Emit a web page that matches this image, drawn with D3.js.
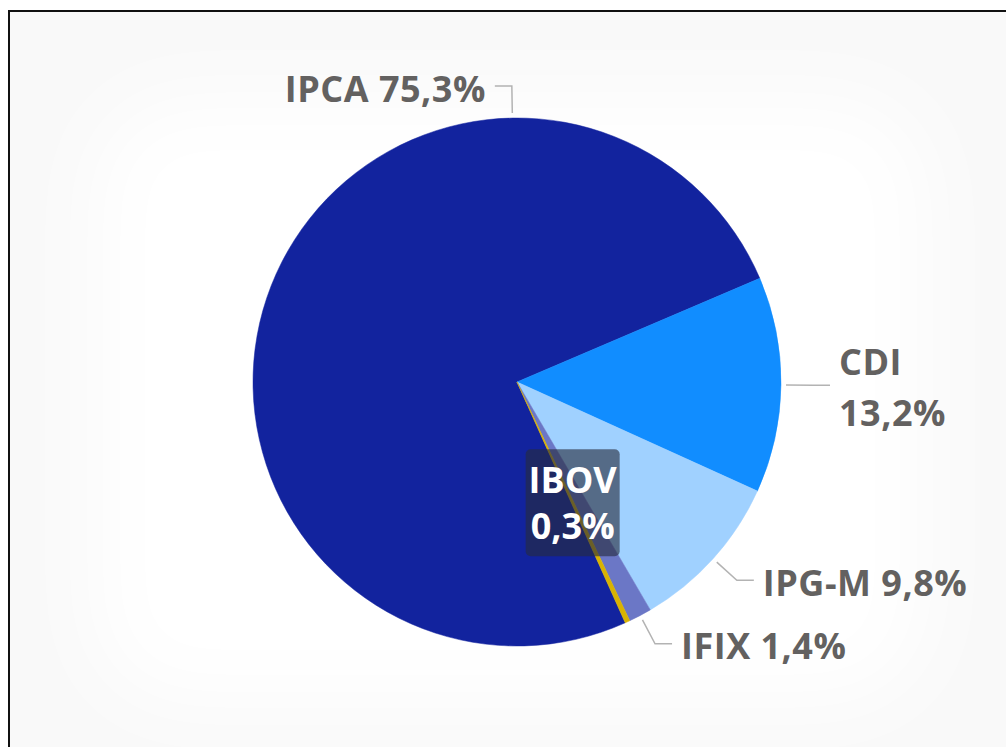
<!DOCTYPE html>
<html>
<head>
<meta charset="utf-8">
<script src="https://cdn.jsdelivr.net/npm/d3@7"></script>
<style>
  body { margin: 0; background: #fff; }
  svg { display: block; }
</style>
</head>
<body>
<div id="chart"></div>
<script>
// slice data (percent)
var names = ["IPCA", "CDI", "IPG-M", "IFIX", "IBOV"];
var values = [75.3, 13.2, 9.8, 1.4, 0.3];
var colors = ["#12239E", "#118DFF", "#A0D1FF", "#6B77C6", "#D9B300"];
var wrapped = ["CDI"];      // labels split over two lines
var insideLabels = ["IBOV"]; // labels drawn inside the pie

var width = 1006, height = 747;
var cx = 517, cy = 382, r = 264;

var svg = d3.select("#chart").append("svg")
  .attr("width", width)
  .attr("height", height);

// soft background
var defs = svg.append("defs");
defs.append("filter").attr("id", "soft")
  .attr("x", "-20%").attr("y", "-20%").attr("width", "140%").attr("height", "140%")
  .append("feGaussianBlur").attr("stdDeviation", 38);

svg.append("rect").attr("x", 8).attr("y", 10)
  .attr("width", width).attr("height", height)
  .attr("fill", "#f9f9f9");
svg.append("rect").attr("x", 95).attr("y", 100)
  .attr("width", 830).attr("height", 600).attr("rx", 90)
  .attr("fill", "#fff").attr("filter", "url(#soft)");

// frame (only left and top edges visible)
svg.append("path")
  .attr("d", "M9," + height + "V11H" + width)
  .attr("fill", "none").attr("stroke", "#111").attr("stroke-width", 2);

var fmt = function(v) { return d3.format(".1f")(v).replace(".", ","); };

var data = names.map(function(n, i) { return { name: n, value: values[i], color: colors[i] }; });

var deg = Math.PI / 180;
var start = 155.8 * deg;
var pie = d3.pie().sort(null).value(function(d) { return d.value; })
  .startAngle(start).endAngle(start + 2 * Math.PI);
var arcs = pie(data);

var arc = d3.arc().innerRadius(0).outerRadius(r);

var g = svg.append("g").attr("transform", "translate(" + cx + "," + cy + ")");

g.selectAll("path.slice").data(arcs).enter().append("path")
  .attr("class", "slice")
  .attr("d", arc)
  .attr("fill", function(d) { return d.data.color; })
  .attr("stroke", function(d) { return d.data.color; })
  .attr("stroke-width", 0.5);

function polar(rad, a) { return [rad * Math.sin(a), -rad * Math.cos(a)]; }

// Power BI moved the big slice's label to the top
function labelAngle(d) {
  if (d.data.name == "IPCA") return -1 * deg;
  return (d.startAngle + d.endAngle) / 2;
}

var fontFam = "'Open Sans', 'Segoe UI', sans-serif";
var fontSize = 36, capH = 25;

var outside = arcs.filter(function(d) { return insideLabels.indexOf(d.data.name) < 0; });

outside.forEach(function(d) {
  var a = labelAngle(d);
  var p1 = polar(r + 5, a), p2 = polar(r + 32, a);
  var dir = Math.sin(a) >= 0 ? 1 : -1;
  var p3 = [p2[0] + dir * 17, p2[1]];
  g.append("polyline")
    .attr("points", [p1, p2, p3].map(function(p) { return p.join(","); }).join(" "))
    .attr("fill", "none").attr("stroke", "#b3b3b3").attr("stroke-width", 1.5);

  var lines = wrapped.indexOf(d.data.name) >= 0
    ? [d.data.name, fmt(d.data.value) + "%"]
    : [d.data.name + " " + fmt(d.data.value) + "%"];
  var lh = 51;
  var y0 = p3[1] + 3 + capH / 2 - (lines.length - 1) * lh / 2;
  var t = g.append("text")
    .attr("x", p3[0] + dir * 9)
    .attr("text-anchor", dir > 0 ? "start" : "end")
    .attr("font-family", fontFam).attr("font-weight", 700)
    .attr("font-size", fontSize).attr("letter-spacing", 0.5)
    .attr("fill", "#636160");
  lines.forEach(function(l, i) {
    t.append("tspan").attr("x", p3[0] + dir * 9).attr("y", y0 + i * lh).text(l);
  });
});

// inside label with dark box
arcs.filter(function(d) { return insideLabels.indexOf(d.data.name) >= 0; }).forEach(function(d) {
  var a = (d.startAngle + d.endAngle) / 2;
  var c = polar(133, a);
  var bw = 94, bh = 107;
  g.append("rect")
    .attr("x", c[0] - bw / 2).attr("y", c[1] - bh / 2)
    .attr("width", bw).attr("height", bh).attr("rx", 5)
    .attr("fill", "rgba(38,44,62,0.62)");
  var t = g.append("text")
    .attr("text-anchor", "middle")
    .attr("font-family", fontFam).attr("font-weight", 700)
    .attr("font-size", fontSize).attr("fill", "#fff");
  t.append("tspan").attr("x", c[0]).attr("y", c[1] - 10).text(d.data.name);
  t.append("tspan").attr("x", c[0]).attr("y", c[1] + 36).text(fmt(d.data.value) + "%");
});
</script>
</body>
</html>
